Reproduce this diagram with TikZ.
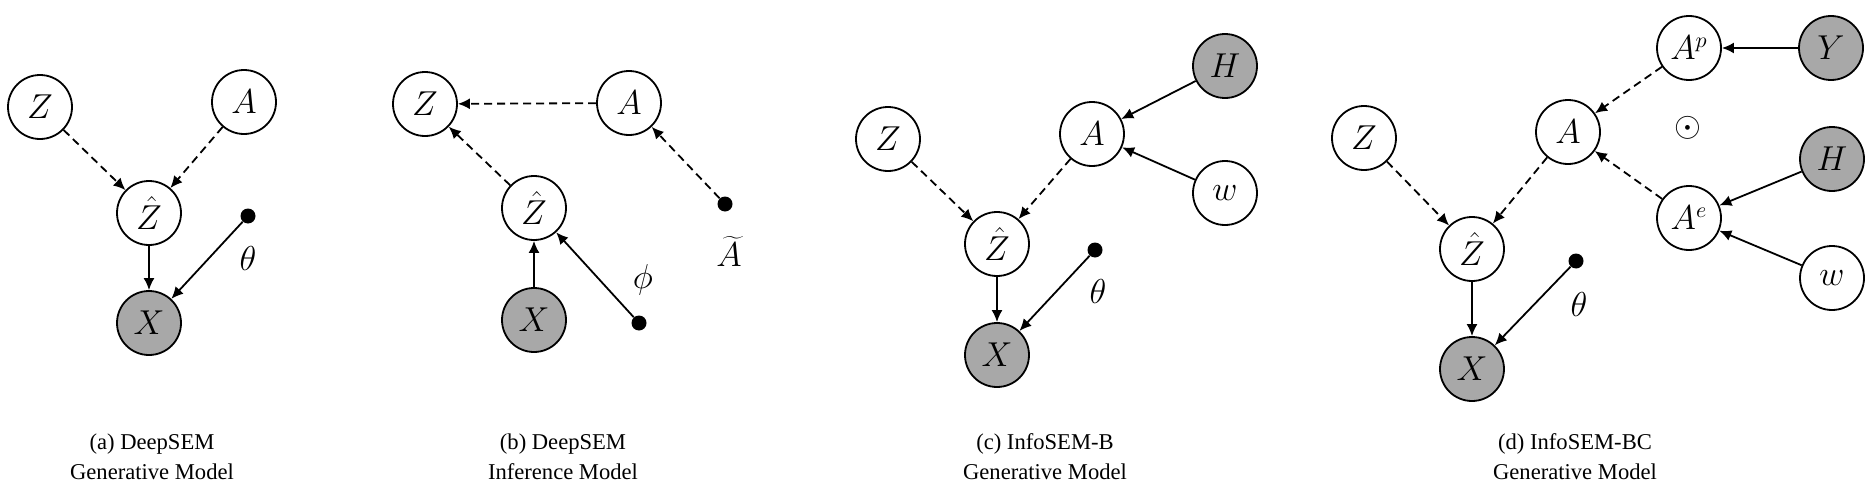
\documentclass[tikz,border=0pt]{standalone}
\usepackage{fontspec}
\setmainfont{Liberation Serif}
\usetikzlibrary{arrows.meta}

\begin{document}
\begin{tikzpicture}[x=0.5pt,y=-0.5pt,
	var/.style={circle,draw,line width=0.9pt,minimum size=32pt,inner sep=0pt,fill=white,font=\fontsize{16}{19}\selectfont},
	obs/.style={var,fill=black!34},
	par/.style={circle,fill=black,inner sep=0pt,minimum size=7.5pt},
	edge/.style={line width=0.9pt,-{Latex[length=6pt,width=5.5pt]}},
	dedge/.style={edge,dash pattern=on 4pt off 2.5pt},
	lab/.style={font=\fontsize{16}{19}\selectfont},
	caption/.style={align=center,font=\fontsize{11.3}{15}\selectfont}]
	\useasboundingbox (0,0) rectangle (1876,487);

	% (a)
	\node[var] (Za) at (40,107) {$Z$};
	\node[var] (Aa) at (244,102) {$A$};
	\node[var] (Zha) at (149,213) {$\hat{Z}$};
	\node[obs] (Xa) at (149,323) {$X$};
	\node[par] (ta) at (248,216) {};
	\node[lab] (tha) at (248,258) {$\theta$};
	\draw[dedge] (Za) -- (Zha);
	\draw[dedge] (Aa) -- (Zha);
	\draw[edge] (Zha) -- (Xa);
	\draw[edge] (ta) -- (Xa);
	\node[caption] (capa) at (152,457) {(a) DeepSEM\\Generative Model};

	% (b)
	\node[var] (Zb) at (425,104) {$Z$};
	\node[var] (Ab) at (629,103) {$A$};
	\node[var] (Zhb) at (534,208) {$\hat{Z}$};
	\node[obs] (Xb) at (534,320) {$X$};
	\node[par] (pb) at (639,323) {};
	\node[lab] (phb) at (643,280) {$\phi$};
	\node[par] (atb) at (725,204) {};
	\node[lab] (alb) at (729,251) {$\widetilde{A}$};
	\draw[dedge] (Ab) -- (Zb);
	\draw[dedge] (Zhb) -- (Zb);
	\draw[edge] (Xb) -- (Zhb);
	\draw[edge] (pb) -- (Zhb);
	\draw[dedge] (atb) -- (Ab);
	\node[caption] (capb) at (563,457) {(b) DeepSEM\\Inference Model};

	% (c)
	\node[var] (Zc) at (888,139) {$Z$};
	\node[var] (Ac) at (1092,134) {$A$};
	\node[obs] (Hc) at (1225,66) {$H$};
	\node[var] (wc) at (1225,193) {$w$};
	\node[var] (Zhc) at (997,244) {$\hat{Z}$};
	\node[obs] (Xc) at (997,355) {$X$};
	\node[par] (tc) at (1095,250) {};
	\node[lab] (thc) at (1098,291) {$\theta$};
	\draw[dedge] (Zc) -- (Zhc);
	\draw[dedge] (Ac) -- (Zhc);
	\draw[edge] (Hc) -- (Ac);
	\draw[edge] (wc) -- (Ac);
	\draw[edge] (Zhc) -- (Xc);
	\draw[edge] (tc) -- (Xc);
	\node[caption] (capc) at (1045,457) {(c) InfoSEM-B\\Generative Model};

	% (d)
	\node[var] (Zd) at (1364,138) {$Z$};
	\node[var] (Ad) at (1568,132) {$A$};
	\node[var] (Apd) at (1689,48) {$A^p$};
	\node[obs] (Yd) at (1831,48) {$Y$};
	\node[lab,font=\fontsize{19}{22}\selectfont] (od) at (1688,128) {$\odot$};
	\node[obs] (Hd) at (1832,159) {$H$};
	\node[var] (Aed) at (1689,218) {$A^e$};
	\node[var] (wd) at (1832,278) {$w$};
	\node[var] (Zhd) at (1472,249) {$\hat{Z}$};
	\node[obs] (Xd) at (1472,369) {$X$};
	\node[par] (td) at (1576,261) {};
	\node[lab] (thd) at (1579,304) {$\theta$};
	\draw[dedge] (Zd) -- (Zhd);
	\draw[dedge] (Ad) -- (Zhd);
	\draw[dedge] (Apd) -- (Ad);
	\draw[dedge] (Aed) -- (Ad);
	\draw[edge] (Yd) -- (Apd);
	\draw[edge] (Hd) -- (Aed);
	\draw[edge] (wd) -- (Aed);
	\draw[edge] (Zhd) -- (Xd);
	\draw[edge] (td) -- (Xd);
	\node[caption] (capd) at (1575,457) {(d) InfoSEM-BC\\Generative Model};
\end{tikzpicture}
\end{document}
